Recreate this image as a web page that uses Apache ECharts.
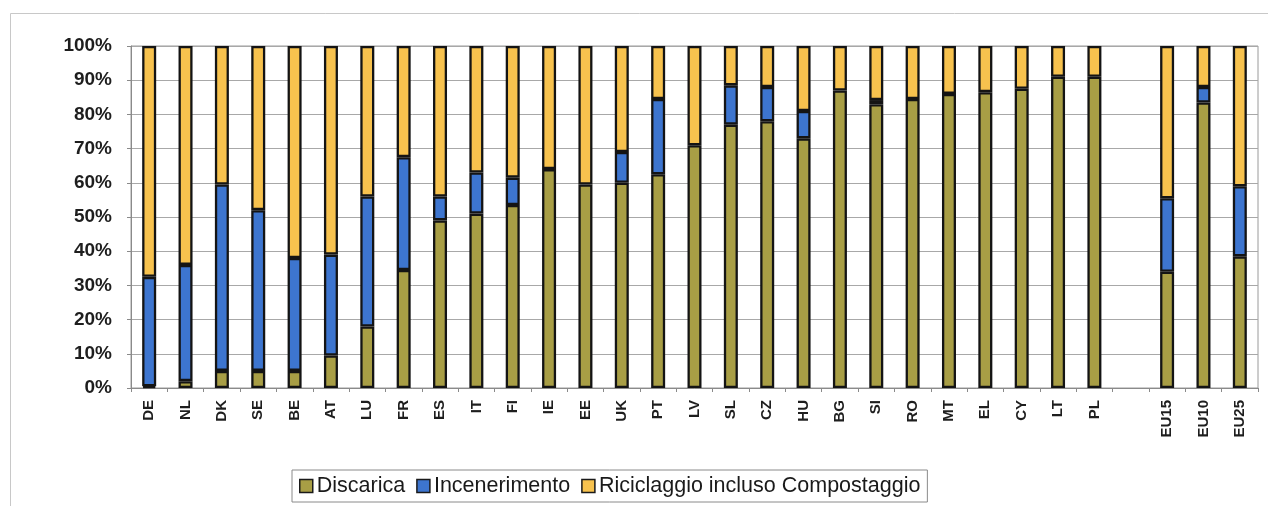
<!DOCTYPE html>
<html>
<head>
<meta charset="utf-8">
<script src="https://cdn.jsdelivr.net/npm/echarts@6/dist/echarts.min.js"></script>
<style>
html,body{margin:0;padding:0;background:#fff;}
#chart{width:1268px;height:506px;}
</style>
</head>
<body>
<div id="chart"></div>
<script>
// Categories (blank entry = gap between countries and EU aggregates)
const categories = ['DE','NL','DK','SE','BE','AT','LU','FR','ES','IT','FI','IE','EE','UK','PT','LV','SL','CZ','HU','BG','SI','RO','MT','EL','CY','LT','PL','','EU15','EU10','EU25'];
// Shares in percent
const discarica     = [0.5, 2, 5, 5, 5, 9.5, 18, 34.5, 49, 51, 53.5, 64, 59.5, 60, 62.5, 71, 77, 78, 73, 87, 83, 84.5, 86, 86.5, 87.5, 91, 91, null, 34, 83.5, 38.5];
const incenerimento = [32, 34, 54.5, 47, 33, 29.5, 38, 33, 7, 12, 8, null, null, 9, 22, null, 11.5, 10, 8, null, 1.2, null, null, null, null, null, null, null, 21.5, 4.5, 20.5];
const riciclaggio   = [67.5, 64, 40.5, 48, 62, 61, 44, 32.5, 44, 37, 38.5, 36, 40.5, 31, 15.5, 29, 11.5, 12, 19, 13, 15.8, 15.5, 14, 13.5, 12.5, 9, 9, null, 44.5, 12, 41];
const seriesNames = ['Discarica', 'Incenerimento', 'Riciclaggio incluso Compostaggio'];
const yTicks = { min: 0, max: 100, interval: 10 };

const colors = ['#a89e45', '#3d75cf', '#f7c24e'];
const font = 'Liberation Sans, Arial, sans-serif';

const chart = echarts.init(document.getElementById('chart'));
function barSeries(name, data, color) {
  return {
    name: name,
    type: 'bar',
    stack: 'total',
    data: data,
    barWidth: 14,
    itemStyle: { color: color, borderColor: '#141414', borderWidth: 2.3 },
    emphasis: { disabled: true }
  };
}
chart.setOption({
  animation: false,
  backgroundColor: '#fff',
  textStyle: { fontFamily: font },
  graphic: [{
    type: 'rect',
    shape: { x: 10.5, y: 13.5, width: 1300, height: 600 },
    style: { fill: 'none', stroke: '#c8c8c8', lineWidth: 1 },
    silent: true, z: -10
  }],
  grid: {
    left: 131, right: 10, top: 46, bottom: 118,
    show: true, borderColor: '#9a9a9a', borderWidth: 1, backgroundColor: 'transparent'
  },
  legend: {
    left: 292, top: 470,
    padding: [5, 7, 5, 7],
    borderColor: '#8a8a8a', borderWidth: 1,
    itemWidth: 13, itemHeight: 13, itemGap: 11,
    icon: 'rect',
    textStyle: { fontSize: 21.5, color: '#1a1a1a', fontFamily: font, padding: [0, 0, 0, -1] },
    data: seriesNames.map(function (n, i) {
      return { name: n, itemStyle: { color: colors[i], borderColor: '#1a1a1a', borderWidth: 1.5 } };
    })
  },
  xAxis: {
    type: 'category',
    data: categories,
    axisLine: { lineStyle: { color: '#8a8a8a', width: 1 } },
    axisTick: { show: true, interval: 0, alignWithLabel: false, length: 4, lineStyle: { color: '#8a8a8a' } },
    axisLabel: { interval: 0, rotate: 90, margin: 12, fontSize: 15, fontWeight: 'bold', color: '#1e1e1e', fontFamily: font },
    splitLine: { show: false }
  },
  yAxis: {
    type: 'value',
    min: yTicks.min, max: yTicks.max, interval: yTicks.interval,
    axisLine: { show: true, lineStyle: { color: '#8a8a8a', width: 1 } },
    axisTick: { show: true, length: 4, lineStyle: { color: '#8a8a8a' } },
    axisLabel: { formatter: '{value}%', margin: 19, fontSize: 19, fontWeight: 'bold', color: '#1e1e1e', fontFamily: font },
    splitLine: { show: true, lineStyle: { color: '#a8a8a8', width: 1 } }
  },
  series: [
    barSeries(seriesNames[0], discarica, colors[0]),
    barSeries(seriesNames[1], incenerimento, colors[1]),
    barSeries(seriesNames[2], riciclaggio, colors[2])
  ]
});
</script>
</body>
</html>
